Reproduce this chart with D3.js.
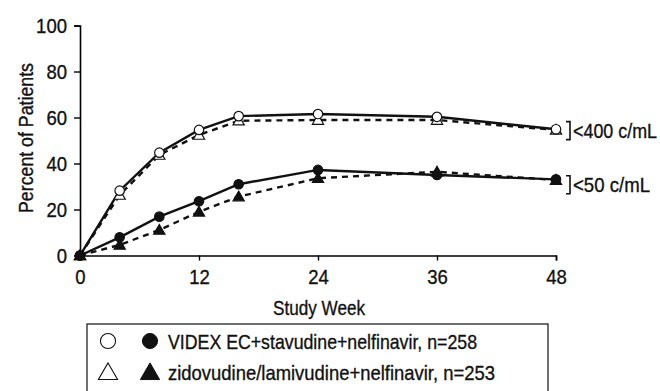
<!DOCTYPE html>
<html><head><meta charset="utf-8">
<script src="https://cdn.jsdelivr.net/npm/d3@7/dist/d3.min.js"></script>
<style>
body{margin:0;background:#fff;}
svg{display:block;font-family:"Liberation Sans",Arial,sans-serif;}
svg text{stroke:#111;stroke-width:0.35px;}
</style></head>
<body><svg id="c" width="660" height="391"></svg>
<script>
const weeks = [0, 4, 8, 12, 16, 24, 36, 48];
const videx400 = [0, 28.2, 44.7, 54.6, 60.6, 61.5, 60.3, 54.9];
const zido400 = [0, 26.3, 43.7, 52.4, 58.6, 58.9, 58.9, 54.6];
const videx50 = [0, 7.9, 16.9, 23.6, 31.0, 37.2, 35.0, 33.1];
const zido50 = [0, 4.6, 11.1, 19.0, 25.6, 33.6, 36.4, 32.8];
const xTicks = [0, 12, 24, 36, 48];
const yTicks = [0, 20, 40, 60, 80, 100];
const legendLabels = ["VIDEX EC+stavudine+nelfinavir, n=258", "zidovudine/lamivudine+nelfinavir, n=253"];
const groupLabels = ["<400 c/mL", "<50 c/mL"];

const svg = d3.select("#c");
const x = d3.scaleLinear().domain([0, 48]).range([80, 556]);
const y = d3.scaleLinear().domain([0, 100]).range([255.5, 25.5]);

function narrow(sel, len) {
  sel.attr("textLength", len).attr("lengthAdjust", "spacingAndGlyphs");
}

// axes
const xAxis = svg.append("g").attr("transform", "translate(0,255.5)")
  .call(d3.axisBottom(x).tickValues(xTicks).tickSize(5).tickPadding(4));
const yAxis = svg.append("g").attr("transform", "translate(80,0)")
  .call(d3.axisLeft(y).tickValues(yTicks).tickSize(6).tickPadding(7));
[xAxis, yAxis].forEach(a => {
  a.select(".domain").attr("stroke", "#000").attr("stroke-width", 1.6);
  a.selectAll(".tick line").attr("stroke", "#000").attr("stroke-width", 1.4);
  a.selectAll("text").attr("font-size", 21).attr("fill", "#111")
    .attr("font-family", "Liberation Sans, Arial, sans-serif")
    .attr("textLength", d => String(d).length * 10.3).attr("lengthAdjust", "spacingAndGlyphs");
});
xAxis.selectAll("text").attr("dy", "0.93em");
yAxis.selectAll("text").attr("dy", "0.35em");

narrow(svg.append("text").attr("x", 273).attr("y", 315)
  .attr("font-size", 21).attr("fill", "#111").text("Study Week"), 92);
narrow(svg.append("text").attr("transform", "translate(33,213) rotate(-90)")
  .attr("font-size", 21).attr("fill", "#111").text("Percent of Patients"), 150);

const line = d3.line().x(d => x(d[0])).y(d => y(d[1]));
const series = [
  {v: zido400, dash: "6,5", sym: "tri", fill: "#fff"},
  {v: zido50, dash: "6,5", sym: "tri", fill: "#111"},
  {v: videx400, dash: null, sym: "circ", fill: "#fff"},
  {v: videx50, dash: null, sym: "circ", fill: "#111"}
];
series.forEach(s => {
  const pts = weeks.map((w, i) => [w, s.v[i]]);
  svg.append("path").attr("d", line(pts)).attr("fill", "none").attr("stroke", "#111")
    .attr("stroke-width", 2.4).attr("stroke-dasharray", s.dash);
});
series.forEach(s => {
  const pts = weeks.map((w, i) => [w, s.v[i]]);
  const symType = s.sym === "tri" ? d3.symbolTriangle : d3.symbolCircle;
  const size = s.sym === "tri" ? 55 : 70;
  svg.append("g").selectAll("path").data(pts).join("path")
    .attr("transform", d => `translate(${x(d[0])},${y(d[1]) + (s.sym === "tri" ? 1 : 0)})`)
    .attr("d", d3.symbol().type(symType).size(size))
    .attr("fill", s.fill).attr("stroke", "#111").attr("stroke-width", 1.2);
});

// group labels with brackets
const groupY = [y((videx400[7] + zido400[7]) / 2) + 1, y((videx50[7] + zido50[7]) / 2) + 5];
const groupLen = [84, 77];
groupLabels.forEach((t, i) => {
  const cy = groupY[i];
  svg.append("path").attr("d", `M566,${cy - 9}H570V${cy + 9}H566`).attr("fill", "none")
    .attr("stroke", "#111").attr("stroke-width", 1.6);
  narrow(svg.append("text").attr("x", 573).attr("y", cy + 7.5).attr("font-size", 21)
    .attr("fill", "#111").text(t), groupLen[i]);
});

// legend
svg.append("rect").attr("x", 87).attr("y", 324).attr("width", 461).attr("height", 80)
  .attr("fill", "#fff").attr("stroke", "#111").attr("stroke-width", 1.2);
const legRows = [341, 372];
const legLen = [309, 327];
const legSyms = [d3.symbolCircle, d3.symbolTriangle];
legendLabels.forEach((t, i) => {
  const ry = legRows[i];
  const st = legSyms[i];
  const sz = i === 0 ? 180 : 160;
  const oy = i === 0 ? 0 : 2;
  svg.append("path").attr("transform", `translate(108,${ry + oy})`).attr("d", d3.symbol().type(st).size(sz))
    .attr("fill", "#fff").attr("stroke", "#111").attr("stroke-width", 1.1);
  svg.append("path").attr("transform", `translate(150,${ry + oy})`).attr("d", d3.symbol().type(st).size(sz))
    .attr("fill", "#111").attr("stroke", "#111").attr("stroke-width", 1);
  narrow(svg.append("text").attr("x", 168).attr("y", ry + 7.5).attr("font-size", 21)
    .attr("fill", "#111").text(t), legLen[i]);
});
</script></body></html>
